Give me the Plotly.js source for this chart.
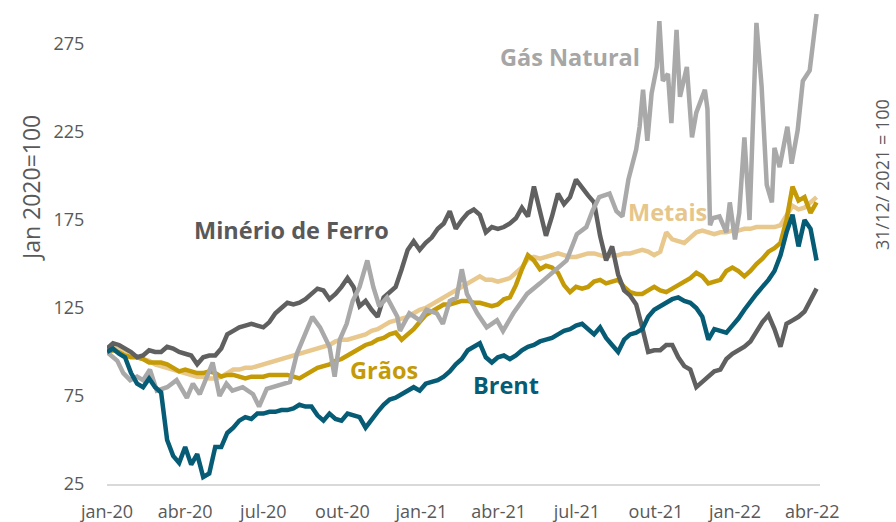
<!DOCTYPE html>
<html><head><meta charset="utf-8">
<script src="https://cdn.plot.ly/plotly-3.0.1.min.js"></script>
<style>html,body{margin:0;padding:0;background:#fff}#chart{width:896px;height:522px}</style>
</head><body><div id="chart"></div>
<script>
// Weekly observation dates (every 7 days from 2020-01-01) for Brent, Grãos, Metais, Minério
const weekStart = '2020-01-01';
const weekStepDays = 7;

const brent = [100,102,99,97,88,82,80,85,80,77, 50,41,37,46,36,42,29,31,46,46,
  54,57,61,63,62,65,65,66,66,67, 67,68,70,69,69,64,61,65,62,61,
  65,64,63,57,62,66,70,73,74,76, 78,80,78,82,83,84,86,89,93,96,
  101,103,105,97,94,97,98,96,98,101, 103,104,106,107,108,110,112,113,115,116,
  113,110,114,108,104,100,107,110,111,113, 120,124,126,128,130,131,129,128,125,120,
  107,113,112,111,115,119,124,129,133,137, 141,146,155,168,178,160,175,170,152];

const graos = [100,101,100,98,97,97,96,94,94,94, 93,91,89,90,89,88,88,89,88,86,
  87,87,86,85,86,86,86,87,87,87, 87,86,85,87,89,91,92,93,95,96,
  98,100,102,104,105,107,108,110,111,107, 110,113,117,121,123,125,127,127,128,129,
  129,128,128,127,126,127,130,131,138,147, 155,152,147,149,148,145,138,134,137,136,
  137,140,141,139,140,141,137,134,133,133, 135,137,135,134,136,138,140,142,145,143,
  139,140,141,146,148,146,143,146,150,153, 157,159,162,175,194,186,188,179,185];

const metais = [100,102,103,101,99,97,96,95,93,92, 91,90,89,88,87,86,86,85,85,86,
  88,90,90,91,91,92,93,94,95,96, 97,98,99,100,101,102,103,104,106,107,
  107,108,109,110,112,113,115,117,118,119, 120,122,124,125,127,129,131,133,135,137,
  139,141,143,141,141,140,141,142,145,148, 153,154,153,154,155,156,155,154,154,155,
  156,156,155,154,155,155,156,156,157,158, 157,155,157,168,164,163,162,165,168,169,
  168,167,168,168,169,169,170,170,171,171, 171,171,172,178,183,181,182,185,188];

const minerio = [102,105,104,102,100,97,98,101,100,100, 103,102,100,99,98,93,97,98,98,102,
  110,112,114,115,116,115,114,117,122,125, 128,127,128,130,133,136,135,130,133,137,
  142,137,126,129,124,120,131,134,137,147, 158,163,158,162,165,170,173,180,170,175,
  179,181,178,168,171,170,171,173,176,182, 177,194,181,166,177,190,184,188,198,193,
  189,185,166,152,160,144,135,132,127,114, 100,101,101,104,104,97,92,90,80,83,
  86,89,90,96,99,101,103,106,112,117, 121,113,103,116,118,120,123,130,136];

// Gás Natural, irregular observation dates (captures its spikes)
const gasDates = ['2020-01-01','2020-01-08','2020-01-13','2020-01-20','2020-01-28','2020-02-05','2020-02-12','2020-02-20','2020-02-28','2020-03-11',
  '2020-03-22','2020-04-03','2020-04-10','2020-04-18','2020-04-26','2020-05-03','2020-05-11','2020-05-19','2020-05-26','2020-06-07',
  '2020-06-19','2020-06-26','2020-07-05','2020-07-20','2020-08-01','2020-08-09','2020-08-20','2020-08-27','2020-09-05','2020-09-16',
  '2020-09-22','2020-09-28','2020-10-06','2020-10-13','2020-10-21','2020-10-30','2020-11-06','2020-11-13','2020-11-22','2020-12-04',
  '2020-12-07','2020-12-18','2020-12-30','2021-01-07','2021-01-19','2021-01-26','2021-02-03','2021-02-11','2021-02-17','2021-02-23',
  '2021-03-07','2021-03-18','2021-03-30','2021-04-06','2021-04-18','2021-05-04','2021-05-19','2021-06-03','2021-06-19','2021-07-01',
  '2021-07-12','2021-07-19','2021-07-27','2021-08-08','2021-08-16','2021-08-23','2021-08-30','2021-09-08','2021-09-12','2021-09-16',
  '2021-09-21','2021-09-26','2021-10-02','2021-10-05','2021-10-09','2021-10-15','2021-10-19','2021-10-25','2021-10-29','2021-11-06',
  '2021-11-12','2021-11-17','2021-11-27','2021-11-30','2021-12-03','2021-12-06','2021-12-14','2021-12-22','2021-12-26','2022-01-01',
  '2022-01-06','2022-01-12','2022-01-18','2022-01-26','2022-02-01','2022-02-07','2022-02-13','2022-02-16','2022-02-22','2022-03-03',
  '2022-03-08','2022-03-15','2022-03-21','2022-03-29','2022-04-06'];
const gasValues = [100,97,95,88,84,86,84,90,78,80,
  84,74,82,76,86,94,75,82,78,80,
  76,69,79,81,83,99,111,120,114,103,
  86,107,116,129,137,152,137,126,131,120,
  112,122,118,124,122,116,129,131,147,133,
  122,114,118,112,122,133,139,145,152,167,
  171,180,188,190,180,177,198,215,228,249,
  220,247,262,288,254,258,230,283,245,262,
  222,236,249,238,172,176,177,168,185,164,
  179,222,175,287,251,195,185,216,205,228,
  207,226,254,260,292];

const tickDates = ['2020-01-01','2020-04-01','2020-07-01','2020-10-01','2021-01-01','2021-04-01','2021-07-01','2021-10-01','2022-01-01','2022-04-01'];
const tickLabels = ['jan-20','abr-20','jul-20','out-20','jan-21','abr-21','jul-21','out-21','jan-22','abr-22'];
const yTicks = [25,75,125,175,225,275];

function weeklyDates(n){
  const out = [];
  const t0 = Date.parse(weekStart + 'T00:00:00Z');
  for (let i = 0; i < n; i++) {
    out.push(new Date(t0 + i * weekStepDays * 86400000).toISOString().slice(0,10));
  }
  return out;
}
const weeks = weeklyDates(brent.length);

const W = 4.5;
const traces = [
  {x: weeks, y: metais, name: 'Metais', line: {color: '#e8c88c', width: W}},
  {x: weeks, y: graos, name: 'Grãos', line: {color: '#c49a06', width: W}},
  {x: weeks, y: minerio, name: 'Minério de Ferro', line: {color: '#606060', width: W}},
  {x: gasDates, y: gasValues, name: 'Gás Natural', line: {color: '#a9a9a9', width: W}},
  {x: weeks, y: brent, name: 'Brent', line: {color: '#065b75', width: W}}
].map(t => Object.assign({type: 'scatter', mode: 'lines', hoverinfo: 'skip'}, t));

const tickFont = {family: 'Open Sans', size: 18, color: '#595959'};
const lab = (text, x, y, color) => ({text, x, y, xref: 'x', yref: 'y', showarrow: false,
  xanchor: 'center', yanchor: 'middle',
  font: {family: 'Open Sans', size: 23.5, color, weight: 'bold'}});

const layout = {
  width: 896, height: 522,
  margin: {l: 107, r: 76, t: 0, b: 38},
  paper_bgcolor: '#fff', plot_bgcolor: '#fff',
  showlegend: false,
  xaxis: {type: 'date', range: ['2020-01-01', '2022-04-10'], tickvals: tickDates, ticktext: tickLabels,
    showgrid: false, zeroline: false, showline: true, linecolor: '#d9d9d9', linewidth: 2,
    ticks: 'outside', ticklen: 10, tickcolor: 'rgba(0,0,0,0)', tickfont: tickFont},
  yaxis: {range: [25, 300], tickvals: yTicks, ticktext: yTicks.map(String),
    showgrid: false, zeroline: false, showline: false,
    ticks: 'outside', ticklen: 18, tickcolor: 'rgba(0,0,0,0)', tickfont: tickFont},
  annotations: [
    lab('Minério de Ferro', '2020-08-03', 169.3, '#595959'),
    lab('Gás Natural', '2021-06-23', 267.6, '#a6a6a6'),
    lab('Metais', '2021-10-14', 179.5, '#e6c68a'),
    lab('Grãos', '2020-11-18', 89.8, '#c49a06'),
    lab('Brent', '2021-04-09', 81.3, '#065b75'),
    {text: 'Jan 2020=100', xref: 'paper', yref: 'paper', x: (31-107)/713, y: (484-188)/484,
      xanchor: 'center', yanchor: 'middle',
      textangle: -90, showarrow: false, font: {family: 'Open Sans', size: 23, color: '#595959'}},
    {text: '31/12/ 2021 = 100', xref: 'paper', yref: 'paper', x: (882-107)/713, y: (484-175)/484,
      xanchor: 'center', yanchor: 'middle',
      textangle: -90, showarrow: false, font: {family: 'Open Sans', size: 18, color: '#595959'}}
  ]
};

Plotly.newPlot('chart', traces, layout, {displayModeBar: false, staticPlot: true});
</script>
</body></html>
